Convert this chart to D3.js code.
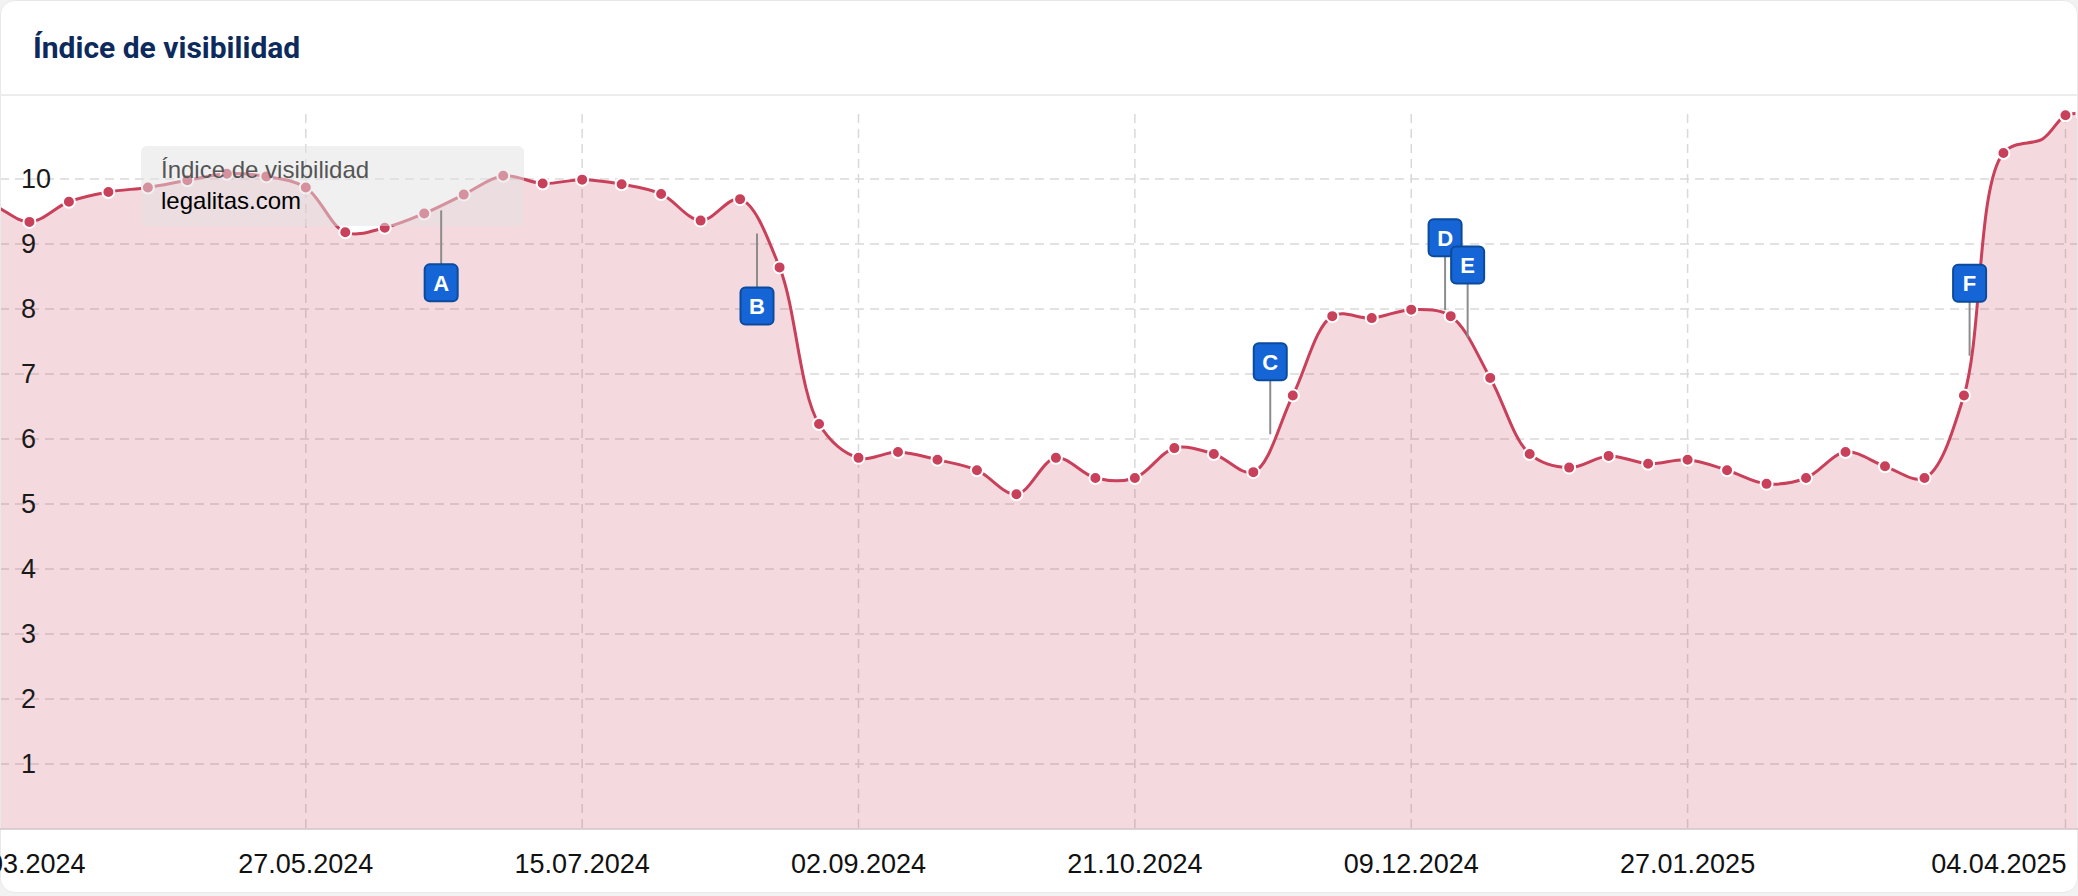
<!DOCTYPE html>
<html>
<head>
<meta charset="utf-8">
<script src="https://cdn.jsdelivr.net/npm/d3@7"></script>
<style>
  html, body { margin: 0; padding: 0; background: #f2f2f2; }
  svg { display: block; }
</style>
</head>
<body>
<svg id="chart" width="2078" height="896"></svg>
<script>
// ---------- DATA ----------
const chartTitle = "Índice de visibilidad";
const tooltipTitle = "Índice de visibilidad";
const tooltipSeries = "legalitas.com";

const dates = [
  "2024-03-25","2024-04-01","2024-04-08","2024-04-15","2024-04-22","2024-04-29",
  "2024-05-06","2024-05-13","2024-05-20","2024-05-27","2024-06-03","2024-06-10",
  "2024-06-17","2024-06-24","2024-07-01","2024-07-08","2024-07-15","2024-07-22",
  "2024-07-29","2024-08-05","2024-08-12","2024-08-19","2024-08-26","2024-09-02",
  "2024-09-09","2024-09-16","2024-09-23","2024-09-30","2024-10-07","2024-10-14",
  "2024-10-21","2024-10-28","2024-11-04","2024-11-11","2024-11-18","2024-11-25",
  "2024-12-02","2024-12-09","2024-12-16","2024-12-23","2024-12-30","2025-01-06",
  "2025-01-13","2025-01-20","2025-01-27","2025-02-03","2025-02-10","2025-02-17",
  "2025-02-24","2025-03-03","2025-03-10","2025-03-17","2025-03-24","2025-03-31",
  "2025-04-04","2025-04-07"
];
const values = [
  9.70, 9.62, 9.34, 9.65, 9.80, 9.87,
  9.98, 10.08, 10.04, 9.87, 9.18, 9.25,
  9.47, 9.76, 10.05, 9.93, 9.99, 9.92,
  9.77, 9.36, 9.69, 8.64, 6.23, 5.71,
  5.80, 5.68, 5.52, 5.15, 5.71, 5.40,
  5.40, 5.86, 5.77, 5.49, 6.67, 7.89,
  7.86, 7.99, 7.89, 6.94, 5.77, 5.56,
  5.74, 5.62, 5.68, 5.52, 5.31, 5.40,
  5.80, 5.58, 5.40, 6.67, 10.40, 10.62,
  10.98, 11.00
];
const markerHiddenDates = ["2025-03-31"];

const yTickValues = [1, 2, 3, 4, 5, 6, 7, 8, 9, 10];
const xTickDates = ["2024-03-25","2024-05-27","2024-07-15","2024-09-02","2024-10-21","2024-12-09","2025-01-27","2025-04-04"];

const flagDates   = ["2024-06-20","2024-08-15","2024-11-14","2024-12-15","2024-12-19","2025-03-18"];
const flagLetters = ["A","B","C","D","E","F"];
const flagSides   = ["below","below","above","above","above","above"];

// ---------- SETUP ----------
const parse = d3.utcParse("%Y-%m-%d");
const fmt = d3.utcFormat("%d.%m.%Y");
const series = dates.map((d, i) => ({ date: parse(d), value: values[i], hidden: markerHiddenDates.includes(d) }));

const svg = d3.select("#chart");
const W = 2078, H = 896;
const plotTop = 114, plotBottom = 829;

const x = d3.scaleUtc()
  .domain([parse("2024-05-27"), parse("2025-01-27")])
  .range([305.8, 1687.6]);
const y = d3.scaleLinear().domain([0, 11]).range([plotBottom, plotTop]);

// card
svg.append("rect").attr("x", 0.5).attr("y", 0.5).attr("width", W - 1).attr("height", 892)
  .attr("rx", 14).attr("fill", "#fff").attr("stroke", "#e8e8e8");

// title
svg.append("text").attr("x", 33).attr("y", 58)
  .attr("font-family", "Roboto, 'Noto Sans', sans-serif").attr("font-weight", 700)
  .attr("font-size", 30).attr("fill", "#0d2a5c").text(chartTitle);

svg.append("line").attr("x1", 0).attr("x2", W).attr("y1", 95).attr("y2", 95)
  .attr("stroke", "#ececec").attr("stroke-width", 2);

// clip
const defs = svg.append("defs");
defs.append("clipPath").attr("id", "plotclip").append("rect")
  .attr("x", 1).attr("y", 100).attr("width", W - 2).attr("height", plotBottom - 100);

const plot = svg.append("g").attr("clip-path", "url(#plotclip)");

// horizontal gridlines
plot.append("g").selectAll("line").data(yTickValues).join("line")
  .attr("x1", 0).attr("x2", W)
  .attr("y1", d => y(d)).attr("y2", d => y(d))
  .attr("stroke", "#d9d9d9").attr("stroke-width", 1.5).attr("stroke-dasharray", "9,6");

// vertical gridlines
plot.append("g").selectAll("line").data(xTickDates.map(parse)).join("line")
  .attr("x1", d => x(d)).attr("x2", d => x(d))
  .attr("y1", plotTop).attr("y2", plotBottom)
  .attr("stroke", "#d9d9d9").attr("stroke-width", 1.5).attr("stroke-dasharray", "9,6");

const curve = d3.curveCatmullRom.alpha(0.5);

// area
plot.append("path").datum(series)
  .attr("d", d3.area().x(d => x(d.date)).y0(y(0)).y1(d => y(d.value)).curve(curve))
  .attr("fill", "rgba(200,64,88,0.2)");

// line
plot.append("path").datum(series)
  .attr("d", d3.line().x(d => x(d.date)).y(d => y(d.value)).curve(curve))
  .attr("fill", "none").attr("stroke", "#c8405a").attr("stroke-width", 3);

// markers
plot.append("g").selectAll("circle").data(series.filter(d => !d.hidden)).join("circle")
  .attr("cx", d => x(d.date)).attr("cy", d => y(d.value)).attr("r", 6)
  .attr("fill", "#c8405a").attr("stroke", "#fff").attr("stroke-width", 2);

// x axis line
svg.append("line").attr("x1", 0).attr("x2", W).attr("y1", plotBottom).attr("y2", plotBottom)
  .attr("stroke", "#d2c5c8").attr("stroke-width", 1.5);

// y labels
svg.append("g").selectAll("text").data(yTickValues).join("text")
  .attr("x", 21).attr("y", d => y(d) + 9)
  .attr("font-family", "'Liberation Sans', Arial, sans-serif").attr("font-size", 27)
  .attr("fill", "#1a1a1a").text(d => d);

// x labels (justified to chart edges)
const chartLeft = x(parse(xTickDates[0]));
const chartRight = x(parse(xTickDates[xTickDates.length - 1])) + 1;
const xl = svg.append("g").selectAll("text").data(xTickDates.map(parse)).join("text")
  .attr("y", 873)
  .attr("font-family", "'Liberation Sans', Arial, sans-serif").attr("font-size", 27)
  .attr("fill", "#111").attr("text-anchor", "middle").text(d => fmt(d));
xl.each(function(d) {
  const w = this.getComputedTextLength();
  let cx = x(d);
  cx = Math.max(cx, chartLeft + w / 2);
  cx = Math.min(cx, chartRight - w / 2);
  d3.select(this).attr("x", cx);
});

// tooltip
const tip = svg.append("g");
tip.append("rect").attr("x", 141).attr("y", 146).attr("width", 383).attr("height", 80)
  .attr("rx", 6).attr("fill", "rgba(225,225,225,0.5)");
tip.append("text").attr("x", 161).attr("y", 178)
  .attr("font-family", "'Liberation Sans', Arial, sans-serif").attr("font-size", 24)
  .attr("fill", "#555").text(tooltipTitle);
tip.append("text").attr("x", 161).attr("y", 209)
  .attr("font-family", "'Liberation Sans', Arial, sans-serif").attr("font-size", 24)
  .attr("fill", "#000").text(tooltipSeries);

// flags
function valueAt(date) {
  const i = d3.bisector(d => d.date).right(series, date);
  const a = series[i - 1], b = series[i];
  const t = (date - a.date) / (b.date - a.date);
  return a.value + t * (b.value - a.value);
}
const fw = 33, fh = 37, off = 59, gap = 5;
const flags = svg.append("g");
flagDates.forEach((ds, i) => {
  const dt = parse(ds);
  const fx = x(dt);
  const cy = y(valueAt(dt));
  const g = flags.append("g");
  let top, s1, s2;
  if (flagSides[i] === "above") {
    const bottom = cy - off;
    top = bottom - fh;
    s1 = bottom; s2 = cy - gap;
  } else {
    top = cy + off;
    s1 = cy + gap; s2 = top;
  }
  g.append("line").attr("x1", fx).attr("x2", fx).attr("y1", s1).attr("y2", s2)
    .attr("stroke", "#8c8c8c").attr("stroke-width", 2);
  g.append("rect").attr("x", fx - fw / 2).attr("y", top).attr("width", fw).attr("height", fh)
    .attr("rx", 5).attr("fill", "#1565d6").attr("stroke", "#0c4a9c").attr("stroke-width", 2);
  g.append("text").attr("x", fx).attr("y", top + fh / 2 + 8)
    .attr("text-anchor", "middle")
    .attr("font-family", "'Liberation Sans', Arial, sans-serif").attr("font-weight", 700)
    .attr("font-size", 22).attr("fill", "#fff").text(flagLetters[i]);
});
</script>
</body>
</html>
